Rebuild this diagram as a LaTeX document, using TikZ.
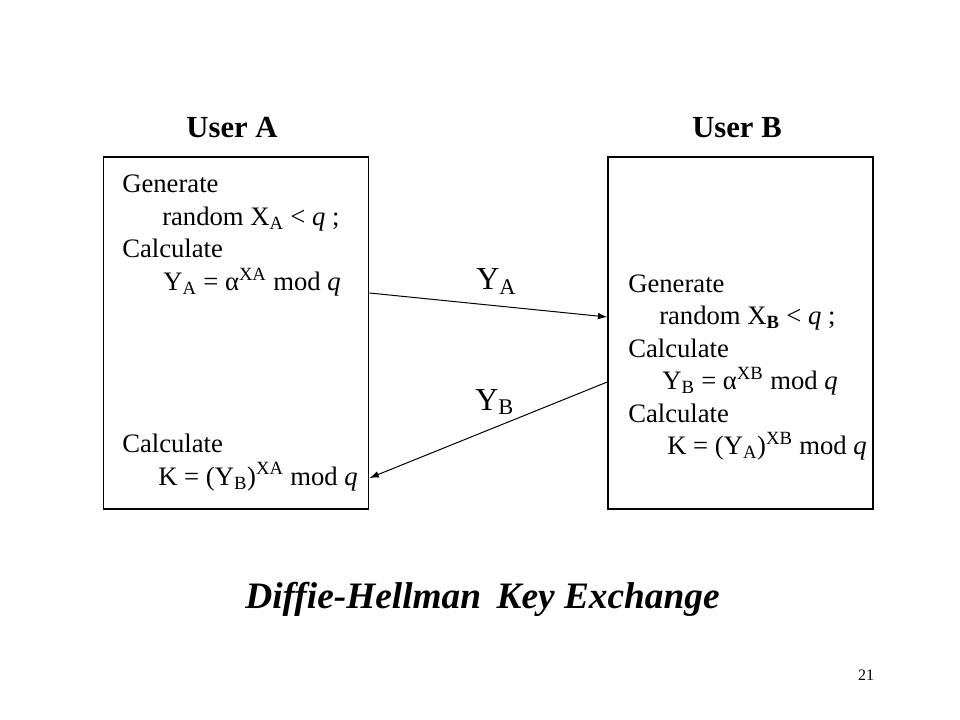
\documentclass[tikz,border=0pt]{standalone}
\usepackage{fontspec}
\setmainfont{Liberation Serif}
\usetikzlibrary{arrows.meta,calc}
\newcommand\lo[1]{\textsubscript{#1}}
\newcommand\hi[1]{\textsuperscript{#1}}
\begin{document}
\begin{tikzpicture}[x=0.75pt,y=-0.75pt,
  body/.style={anchor=base west,inner sep=0pt,font=\fontsize{20}{24}\selectfont},
  boxst/.style={draw,line width=1.1pt,inner sep=0pt,minimum width=198.75pt,minimum height=264pt},
  user/.style={anchor=base,inner sep=0pt,font=\fontsize{23}{27}\selectfont\bfseries},
  ylab/.style={anchor=base west,inner sep=0pt,font=\fontsize{24}{28}\selectfont},
  msg/.style={line width=0.75pt,-{Latex[length=7pt,width=5pt]}}
]
\useasboundingbox (0,0) rectangle (960,720);
\node[boxst] (boxA) at (236.25,333) {};
\node[boxst] (boxB) at (740.5,333) {};
\node[user] (ua) at (232,138) {User A};
\node[user] (ub) at (737,138) {User B};
% left box text
\node[body] (a1) at (122,193) {Generate};
\node[body] (a2) at (162,225.5) {random X\lo{A} < \textit{q} ;};
\node[body] (a3) at (122,258) {Calculate};
\node[body] (a4) at (163,290.5) {Y\lo{A} = α\hi{XA} mod \textit{q}};
\node[body] (a5) at (122,452.5) {Calculate};
\node[body] (a6) at (158,485) {K = (Y\lo{B})\hi{XA} mod \textit{q}};
% right box text
\node[body] (b1) at (628,292) {Generate};
\node[body] (b2) at (659,324.5) {random X\lo{\textbf{B}} < \textit{q} ;};
\node[body] (b3) at (628,357) {Calculate};
\node[body] (b4) at (662,389.5) {Y\lo{B} = α\hi{XB} mod \textit{q}};
\node[body] (b5) at (628,422) {Calculate};
\node[body] (b6) at (667,454.5) {K = (Y\lo{A})\hi{XB} mod \textit{q}};
% messages
\draw[msg] ($(boxA.east)+(0,-40)$) -- ($(boxB.west)+(0,-16)$);
\draw[msg] ($(boxB.west)+(0,49)$) -- ($(boxA.east)+(0,145)$);
\node[ylab] (ya) at (476,290) {Y\lo{A}};
\node[ylab] (yb) at (475,410) {Y\lo{B}};
% title and page number
\node[anchor=base,inner sep=0pt,font=\fontsize{28}{32}\selectfont\bfseries\itshape] (title) at (482.5,608) {Diffie-Hellman\, Key Exchange};
\node[anchor=base,inner sep=0pt,font=\fontsize{12}{14}\selectfont] (pg) at (866,680) {21};
\end{tikzpicture}
\end{document}
